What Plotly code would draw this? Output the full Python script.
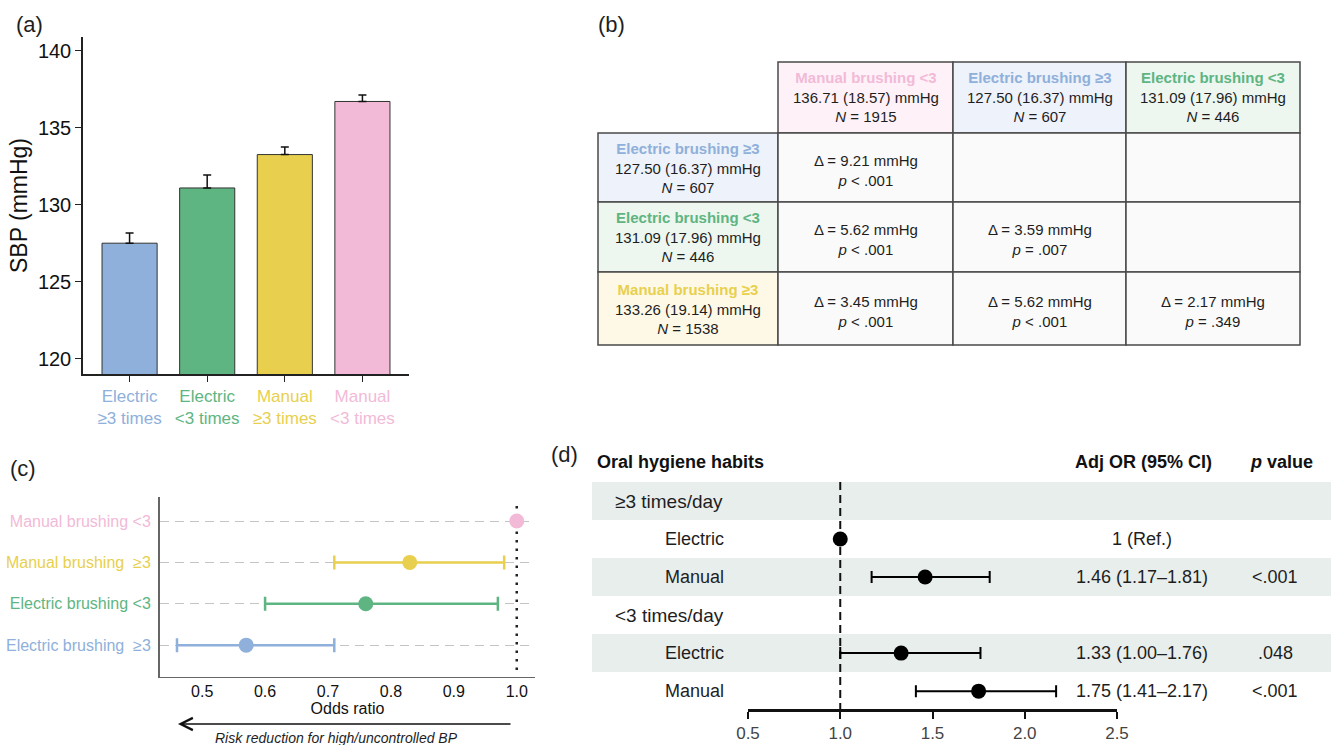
import plotly.graph_objects as go

W, H = 1331, 745


def px(x):
    return x / W


def py(y):
    return 1 - y / H


FONT = "Liberation Sans, Arial, Helvetica, sans-serif"
INK = "#1e1e1e"

# ---------------- data ----------------
# (a) mean SBP by brushing group
groups_a = ["Electric<br>≥3 times", "Electric<br>&lt;3 times", "Manual<br>≥3 times", "Manual<br>&lt;3 times"]
sbp_mean = [127.50, 131.09, 133.26, 136.71]
sbp_se = [0.66, 0.85, 0.49, 0.42]
group_colors = ["#8EB0DB", "#5EB582", "#E8D04E", "#F2BAD7"]

# (b) pairwise comparison table
tbl_col_names = ["Manual brushing &lt;3", "Electric brushing ≥3", "Electric brushing &lt;3"]
tbl_col_mean = [136.71, 127.50, 131.09]
tbl_col_sd = [18.57, 16.37, 17.96]
tbl_col_n = [1915, 607, 446]
tbl_col_colors = ["#F2BAD7", "#8EB0DB", "#5EB582"]
tbl_col_bg = ["#FEF1F8", "#EEF2FA", "#EDF6EF"]
tbl_row_names = ["Electric brushing ≥3", "Electric brushing &lt;3", "Manual brushing ≥3"]
tbl_row_mean = [127.50, 131.09, 133.26]
tbl_row_sd = [16.37, 17.96, 19.14]
tbl_row_n = [607, 446, 1538]
tbl_row_colors = ["#8EB0DB", "#5EB582", "#E8D04E"]
tbl_row_bg = ["#EEF2FA", "#EDF6EF", "#FEF9E7"]
tbl_delta = [[9.21, None, None], [5.62, 3.59, None], [3.45, 5.62, 2.17]]
tbl_p = [["< .001", None, None], ["< .001", "= .007", None], ["< .001", "< .001", "= .349"]]

# (c) odds ratios vs manual <3
c_labels = ["Electric brushing  ≥3", "Electric brushing &lt;3", "Manual brushing  ≥3", "Manual brushing &lt;3"]
c_est = [0.57, 0.76, 0.83, 1.00]
c_lo = [0.46, 0.60, 0.71, None]
c_hi = [0.71, 0.97, 0.98, None]
c_colors = ["#8EB0DB", "#5EB582", "#E8D04E", "#F2BAD7"]

# (d) adjusted odds ratios
d_rows = ["≥3 times/day", "Electric", "Manual", "&lt;3 times/day", "Electric", "Manual"]
d_is_group = [True, False, False, True, False, False]
d_or = [None, 1.00, 1.46, None, 1.33, 1.75]
d_lo = [None, None, 1.17, None, 1.00, 1.41]
d_hi = [None, None, 1.81, None, 1.76, 2.17]
d_or_text = ["", "1 (Ref.)", "1.46 (1.17–1.81)", "", "1.33 (1.00–1.76)", "1.75 (1.41–2.17)"]
d_p_text = ["", "", "&lt;.001", "", ".048", "&lt;.001"]
d_band_rows = [0, 2, 4]

fig = go.Figure()

# ---------------- panel (a) ----------------
fig.add_trace(go.Bar(
    x=list(range(len(sbp_mean))), y=sbp_mean, width=0.71,
    marker=dict(color=group_colors, line=dict(color="#333333", width=1)),
    error_y=dict(type="data", symmetric=False, array=sbp_se, arrayminus=[0] * len(sbp_se),
                 color="#111111", thickness=1.5, width=4),
    xaxis="x", yaxis="y", showlegend=False, hoverinfo="skip"))

# ---------------- panel (c) ----------------
for i in range(len(c_est)):
    err = None
    if c_lo[i] is not None:
        err = dict(type="data", symmetric=False, array=[c_hi[i] - c_est[i]],
                   arrayminus=[c_est[i] - c_lo[i]], color=c_colors[i], thickness=2.5, width=7)
    fig.add_trace(go.Scatter(
        x=[c_est[i]], y=[i], mode="markers", marker=dict(size=15, color=c_colors[i]),
        error_x=err, xaxis="x3", yaxis="y3", showlegend=False, hoverinfo="skip"))

# ---------------- panel (d) ----------------
ci_rows = [i for i in range(len(d_rows)) if d_lo[i] is not None]
ref_rows = [i for i in range(len(d_rows)) if d_or[i] is not None and d_lo[i] is None]
fig.add_trace(go.Scatter(
    x=[d_or[i] for i in ci_rows], y=ci_rows, mode="markers",
    marker=dict(size=15, color="#000000"),
    error_x=dict(type="data", symmetric=False,
                 array=[d_hi[i] - d_or[i] for i in ci_rows],
                 arrayminus=[d_or[i] - d_lo[i] for i in ci_rows],
                 color="#000000", thickness=2, width=6),
    xaxis="x4", yaxis="y4", showlegend=False, hoverinfo="skip"))
fig.add_trace(go.Scatter(
    x=[d_or[i] for i in ref_rows], y=ref_rows, mode="markers",
    marker=dict(size=15, color="#000000"),
    xaxis="x4", yaxis="y4", showlegend=False, hoverinfo="skip"))

shapes = []
annotations = []

# panel labels
for lab, x, y in [("(a)", 14, 25), ("(b)", 596, 25), ("(c)", 8, 468), ("(d)", 549, 454)]:
    annotations.append(dict(text=lab, x=px(x), y=py(y), xref="paper", yref="paper",
                            xanchor="left", yanchor="middle", showarrow=False,
                            font=dict(size=22, color=INK)))

# ---------------- table (b) ----------------
tx = [598, 778, 953, 1126, 1300]
ty = [62, 133, 202, 272, 345]
BORDER = dict(color="#4a4a4a", width=1.5)
TF = dict(size=15, color=INK)
for j in range(3):
    shapes.append(dict(type="rect", xref="paper", yref="paper",
                       x0=px(tx[j + 1]), x1=px(tx[j + 2]), y0=py(ty[0]), y1=py(ty[1]),
                       fillcolor=tbl_col_bg[j], line=BORDER, layer="below"))
    annotations.append(dict(
        text=(f"<b><span style='color:{tbl_col_colors[j]}'>{tbl_col_names[j]}</span></b><br>"
              f"{tbl_col_mean[j]:.2f} ({tbl_col_sd[j]:.2f}) mmHg<br><i>N</i> = {tbl_col_n[j]}"),
        x=px((tx[j + 1] + tx[j + 2]) / 2), y=py((ty[0] + ty[1]) / 2), xref="paper", yref="paper",
        xanchor="center", yanchor="middle", showarrow=False, font=TF))
for i in range(3):
    shapes.append(dict(type="rect", xref="paper", yref="paper",
                       x0=px(tx[0]), x1=px(tx[1]), y0=py(ty[i + 1]), y1=py(ty[i + 2]),
                       fillcolor=tbl_row_bg[i], line=BORDER, layer="below"))
    annotations.append(dict(
        text=(f"<b><span style='color:{tbl_row_colors[i]}'>{tbl_row_names[i]}</span></b><br>"
              f"{tbl_row_mean[i]:.2f} ({tbl_row_sd[i]:.2f}) mmHg<br><i>N</i> = {tbl_row_n[i]}"),
        x=px((tx[0] + tx[1]) / 2), y=py((ty[i + 1] + ty[i + 2]) / 2), xref="paper", yref="paper",
        xanchor="center", yanchor="middle", showarrow=False, font=TF))
    for j in range(3):
        shapes.append(dict(type="rect", xref="paper", yref="paper",
                           x0=px(tx[j + 1]), x1=px(tx[j + 2]), y0=py(ty[i + 1]), y1=py(ty[i + 2]),
                           fillcolor="#FAFAFA", line=BORDER, layer="below"))
        if tbl_delta[i][j] is not None:
            ptxt = tbl_p[i][j].replace("<", "&lt;")
            annotations.append(dict(
                text=f"Δ = {tbl_delta[i][j]:.2f} mmHg<br><i>p</i> {ptxt}",
                x=px((tx[j + 1] + tx[j + 2]) / 2), y=py((ty[i + 1] + ty[i + 2]) / 2 + 3),
                xref="paper", yref="paper", xanchor="center", yanchor="middle",
                showarrow=False, font=TF))

# ---------------- panel (c) extras ----------------
shapes.append(dict(type="line", xref="x3", yref="y3", x0=1.0, x1=1.0, y0=-0.6, y1=3.5,
                   line=dict(color="#222222", width=2.5, dash="2.5px,6px"), layer="below"))
annotations.append(dict(text="", x=px(178), y=py(724), xref="paper", yref="paper",
                        ax=334, ay=0, axref="pixel", ayref="pixel", showarrow=True,
                        arrowhead=5, arrowsize=1.6, arrowwidth=1.5, arrowcolor="#111111"))
annotations.append(dict(text="<i>Risk reduction for high/uncontrolled BP</i>",
                        x=px(336), y=py(728), xref="paper", yref="paper",
                        xanchor="center", yanchor="top", showarrow=False,
                        font=dict(size=14, color=INK)))

# ---------------- panel (d) extras ----------------
for r in d_band_rows:
    shapes.append(dict(type="rect", xref="paper", yref="y4", x0=px(592), x1=1.0,
                       y0=r - 0.5, y1=r + 0.5, fillcolor="#E8EEEC", line=dict(width=0),
                       layer="below"))
shapes.append(dict(type="line", xref="x4", yref="y4", x0=1.0, x1=1.0, y0=-0.5, y1=5.47,
                   line=dict(color="#111111", width=2, dash="8px,5px"), layer="below"))
DF = dict(size=18, color=INK)
GF = dict(size=19, color=INK)
for i, lab in enumerate(d_rows):
    if d_is_group[i]:
        annotations.append(dict(text=lab, x=px(613), y=i, xref="paper", yref="y4",
                                xanchor="left", yanchor="middle", showarrow=False, font=GF))
    else:
        annotations.append(dict(text=lab, x=px(694), y=i, xref="paper", yref="y4",
                                xanchor="center", yanchor="middle", showarrow=False, font=DF))
    if d_or_text[i]:
        annotations.append(dict(text=d_or_text[i], x=px(1142), y=i, xref="paper", yref="y4",
                                xanchor="center", yanchor="middle", showarrow=False, font=DF))
    if d_p_text[i]:
        annotations.append(dict(text=d_p_text[i], x=px(1275), y=i, xref="paper", yref="y4",
                                xanchor="center", yanchor="middle", showarrow=False, font=DF))
HF = dict(size=18, color="#111111")
annotations.append(dict(text="<b>Oral hygiene habits</b>", x=px(595), y=py(462), xref="paper",
                        yref="paper", xanchor="left", yanchor="middle", showarrow=False, font=HF))
annotations.append(dict(text="<b>Adj OR (95% CI)</b>", x=px(1143), y=py(462), xref="paper",
                        yref="paper", xanchor="center", yanchor="middle", showarrow=False, font=HF))
annotations.append(dict(text="<b><i>p</i> value</b>", x=px(1281), y=py(462), xref="paper",
                        yref="paper", xanchor="center", yanchor="middle", showarrow=False, font=HF))

fig.update_layout(
    width=W, height=H, margin=dict(l=0, r=0, t=0, b=0, autoexpand=False),
    paper_bgcolor="white", plot_bgcolor="rgba(0,0,0,0)",
    font=dict(family=FONT, color=INK), showlegend=False,
    xaxis=dict(domain=[px(83), px(409)], range=[-0.6, 3.6], anchor="y", automargin=False,
               tickvals=list(range(len(groups_a))),
               ticktext=[f"<span style='color:{c}'>{g}</span>" for g, c in zip(groups_a, group_colors)],
               ticks="outside", ticklen=6, tickwidth=1.2, tickcolor="#222",
               showline=True, linecolor="#222", linewidth=1.5,
               showgrid=False, zeroline=False, tickfont=dict(size=17)),
    yaxis=dict(domain=[py(374), py(37)], range=[119, 140.9], anchor="x", automargin=False,
               tickvals=[120, 125, 130, 135, 140], ticks="outside", ticklen=6, tickwidth=1.2,
               tickcolor="#222", showline=True, linecolor="#222", linewidth=1.5,
               showgrid=False, zeroline=False, tickfont=dict(size=20, color="#111"),
               title=dict(text="SBP (mmHg)", font=dict(size=23, color="#111"), standoff=4)),
    xaxis3=dict(domain=[px(160), px(535)], range=[0.433, 1.029], anchor="y3", automargin=False,
                tickvals=[0.5, 0.6, 0.7, 0.8, 0.9, 1.0], tickformat=".1f", ticks="",
                showline=True, linecolor="#666", linewidth=1.3, showgrid=False, zeroline=False,
                tickfont=dict(size=16, color="#111"),
                title=dict(text="Odds ratio", font=dict(size=16, color="#111"), standoff=2)),
    yaxis3=dict(domain=[py(677), py(497)], range=[-0.77, 3.58], anchor="x3", automargin=False,
                tickvals=list(range(len(c_labels))),
                ticktext=[f"<span style='color:{c}'>{l}</span>" for l, c in zip(c_labels, c_colors)],
                ticks="", showline=True, linecolor="#666", linewidth=2,
                showgrid=True, gridcolor="#C4C4C4", gridwidth=1.2, griddash="9px,6px",
                zeroline=False, tickfont=dict(size=16), ticklabelstandoff=4),
    xaxis4=dict(domain=[px(748), px(1117)], range=[0.5, 2.5], anchor="y4", automargin=False,
                tickvals=[0.5, 1.0, 1.5, 2.0, 2.5], tickformat=".1f", ticks="outside",
                ticklen=7, tickwidth=2, tickcolor="#111", showline=True, linecolor="#111",
                linewidth=2.5, showgrid=False, zeroline=False,
                tickfont=dict(size=17, color="#444")),
    yaxis4=dict(domain=[py(709), py(482)], range=[5.47, -0.5], anchor="x4", visible=False,
                automargin=False, showgrid=False, zeroline=False),
    shapes=shapes, annotations=annotations,
)

fig.write_html(
    "out.html",
    config={"displayModeBar": False},
    post_script="document.body.style.margin='0px';document.body.style.overflow='hidden';",
)
